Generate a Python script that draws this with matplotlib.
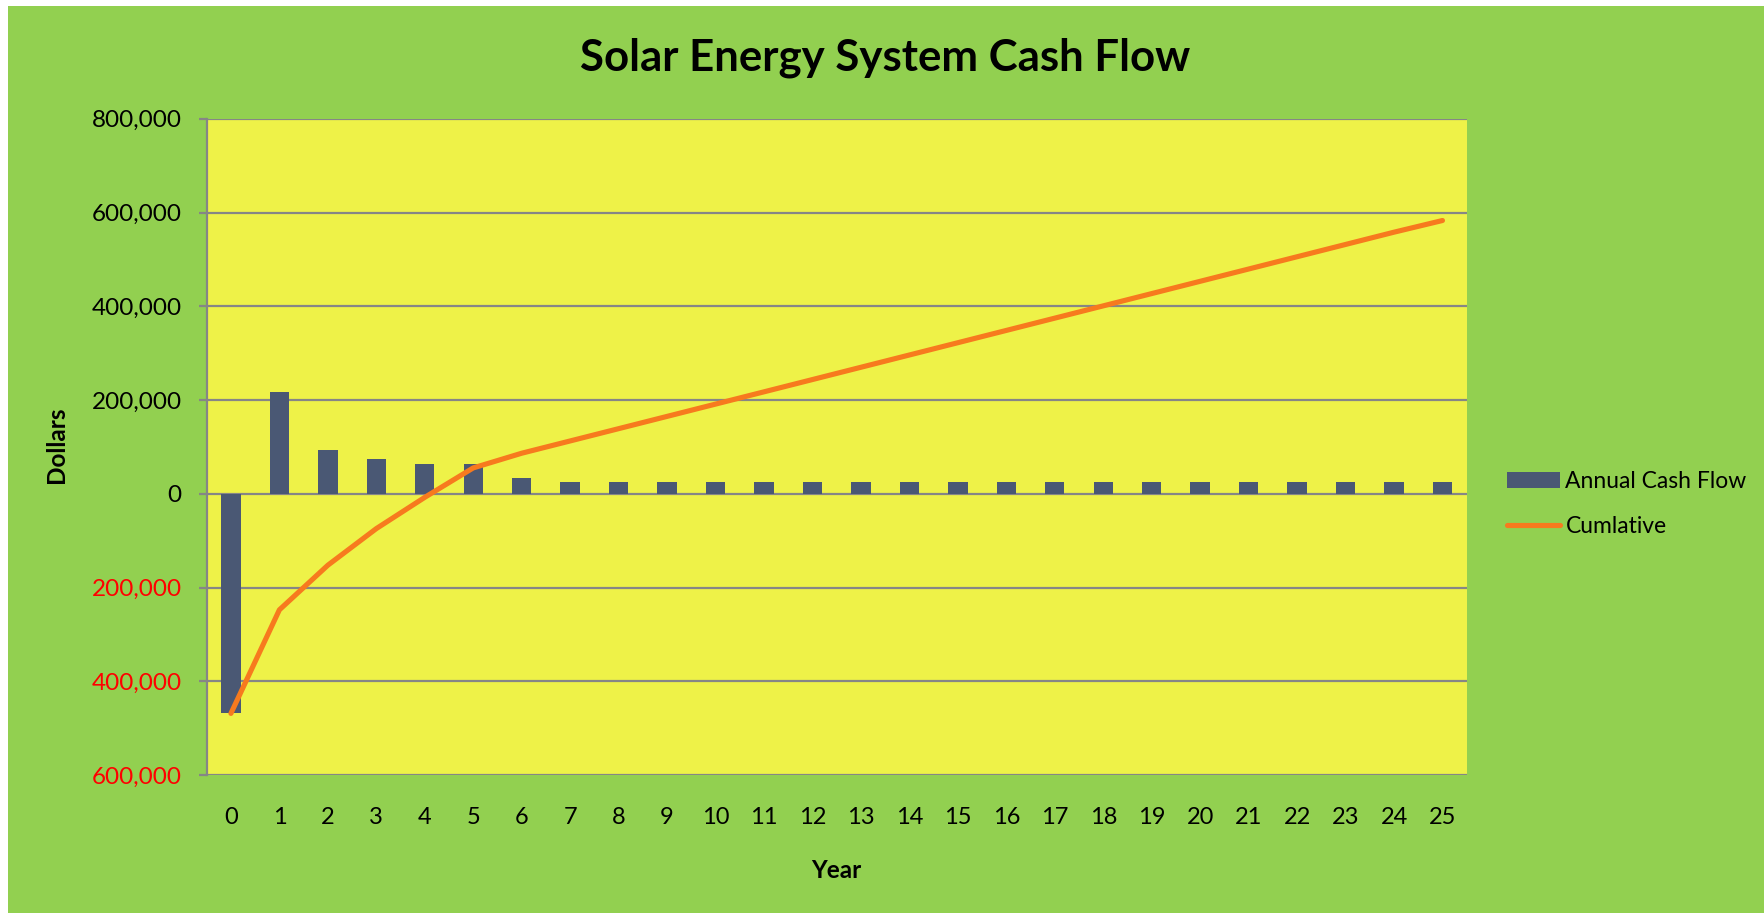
import matplotlib
matplotlib.use("Agg")
import matplotlib.pyplot as plt
from matplotlib.patches import Rectangle
from matplotlib.ticker import FuncFormatter, FixedLocator

plt.rcParams['font.family'] = ['Lato', 'DejaVu Sans']

years = list(range(26))
annual_cash_flow = [-468600, 217000, 94300, 75200, 63800, 63800, 33500,
                    25500, 25500, 25500, 25500, 25500, 25500, 25500, 25500,
                    25500, 25500, 25500, 25500, 25500, 25500, 25500, 25500,
                    25500, 25500, 25500]
cumulative = [-468600, -247600, -152400, -74300, -7600, 55200, 86500,
              112700, 138900, 165100, 191300, 217500, 243700, 269900, 296100,
              322300, 348500, 374700, 400900, 427100, 453300, 479500, 505700,
              531900, 558100, 583000]
y_ticks = [-600000, -400000, -200000, 0, 200000, 400000, 600000, 800000]

title = "Solar Energy System Cash Flow"
x_label = "Year"
y_label = "Dollars"
bar_label = "Annual Cash Flow"
line_label = "Cumlative"

GREEN = "#92D050"
YELLOW = "#EEF248"
BAR = "#4A5874"
ORANGE = "#F77A1E"
GRID = "#868686"

W, H = 1764, 913
fig = plt.figure(figsize=(W / 100, H / 100), dpi=100)
fig.patch.set_facecolor("white")
fig.patches.append(Rectangle((8 / W, 0), 1 - 8 / W, 1 - 6 / H,
                             transform=fig.transFigure, facecolor=GREEN,
                             edgecolor="none", zorder=-10))

ax = fig.add_axes([206.7 / W, 1 - 775 / H, (1466.7 - 206.7) / W, (775 - 118.8) / H])
ax.set_facecolor(YELLOW)

bars = ax.bar(years, annual_cash_flow, width=0.4, color=BAR, zorder=2, label=bar_label)
line, = ax.plot(years, cumulative, color=ORANGE, lw=3.7, solid_capstyle="round",
                solid_joinstyle="round", zorder=3, label=line_label)

ax.set_xlim(-0.5, 25.5)
ax.set_ylim(-600000, 800000)
ax.yaxis.set_major_locator(FixedLocator(y_ticks))
ax.yaxis.set_major_formatter(FuncFormatter(lambda v, p: f"{abs(v):,.0f}"))
ax.set_xticks(years)
ax.set_xticklabels([str(y) for y in years])

ax.grid(axis="y", color=GRID, lw=1.6, zorder=1)
ax.set_axisbelow(True)
for s in ["top", "right", "bottom"]:
    ax.spines[s].set_visible(False)
ax.spines["left"].set_color(GRID)
ax.spines["left"].set_linewidth(1.6)

ax.tick_params(axis="y", length=6, width=1.6, color=GRID, pad=12, labelsize=17.5)
ax.tick_params(axis="x", length=0, pad=23, labelsize=17)
for lbl, v in zip(ax.get_yticklabels(), y_ticks):
    lbl.set_color("#FF0000" if v < 0 else "black")

fig.text(885 / W, 1 - 58 / H, title, ha="center", va="center",
         fontsize=31.5, fontweight="bold")
fig.text(56 / W, 1 - 445 / H, y_label, ha="center", va="center",
         rotation=90, fontsize=17.5, fontweight="bold")
fig.text(836.7 / W, 1 - 870 / H, x_label, ha="center", va="center",
         fontsize=17.5, fontweight="bold")

leg = fig.legend(handles=[bars, line], labels=[bar_label, line_label],
                 loc="center left", bbox_to_anchor=(1507 / W, 1 - 504 / H),
                 frameon=False, fontsize=16.5, handlelength=2.3,
                 handleheight=0.65, handletextpad=0.25, labelspacing=1.05,
                 borderaxespad=0, borderpad=0)

fig.savefig("out.png", dpi=100, facecolor=fig.get_facecolor())
